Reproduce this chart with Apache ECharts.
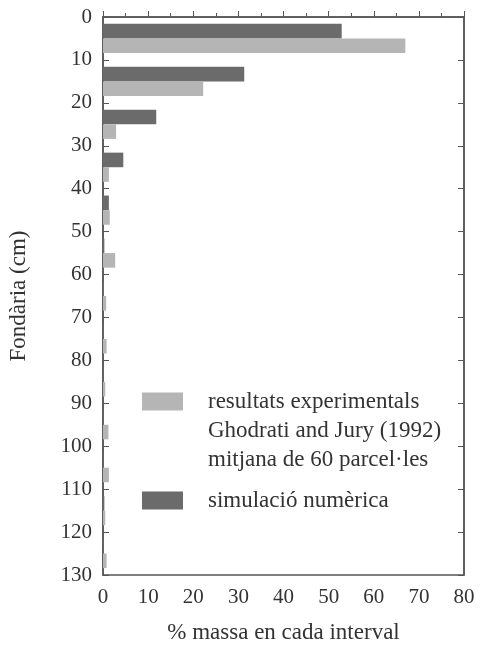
<!DOCTYPE html>
<html>
<head>
<meta charset="utf-8">
<script src="https://cdn.jsdelivr.net/npm/echarts@6/dist/echarts.min.js"></script>
<style>
html,body{margin:0;padding:0;background:#fff;}
#chart{width:484px;height:645px;}
</style>
</head>
<body>
<div id="chart"></div>
<script>
// depth intervals (cm), 10-cm bins
var depthBins = ['0-10','10-20','20-30','30-40','40-50','50-60','60-70','70-80','80-90','90-100','100-110','110-120','120-130'];
// % mass in each interval
var simulacio = [52.9, 31.3, 11.8, 4.5, 1.3, 0.3, 0.2, 0.1, 0.1, 0.1, 0.1, 0.3, 0.1];
var experimental = [67.0, 22.2, 2.9, 1.3, 1.5, 2.7, 0.7, 0.8, 0.5, 1.2, 1.3, 0.5, 0.8];
var depthTicks = [0,10,20,30,40,50,60,70,80,90,100,110,120,130];
var massTicks = [0,10,20,30,40,50,60,70,80];

var serif = '"Liberation Serif", "DejaVu Serif", serif';
var txt = '#333';
var lineCol = '#555';
var chart = echarts.init(document.getElementById('chart'), null, {renderer:'canvas'});
var nameExp = 'resultats experimentals\nGhodrati and Jury (1992)\nmitjana de 60 parcel·les';
var nameSim = 'simulació numèrica';
chart.setOption({
  animation:false,
  backgroundColor:'#fff',
  textStyle:{fontFamily:serif},
  grid:{left:103, top:17, right:20, bottom:70, containLabel:false, outerBoundsMode:'none',
    show:true, borderColor:lineCol, borderWidth:1.5, backgroundColor:'transparent'},
  legend:[{
    data:[nameExp], orient:'vertical', left:137, top:324,
    icon:'rect', itemWidth:41, itemHeight:18,
    formatter:function(n){return '\n\n' + n;},
    textStyle:{fontFamily:serif, fontSize:23, color:txt, lineHeight:29, padding:[0,0,0,20]}
  },{
    data:[nameSim], orient:'vertical', left:137, top:481,
    icon:'rect', itemWidth:41, itemHeight:18,
    textStyle:{fontFamily:serif, fontSize:23, color:txt, lineHeight:29, padding:[0,0,0,20]}
  }],
  xAxis:[{
    type:'value', min:0, max:80, interval:10, position:'bottom',
    name:'% massa en cada interval', nameLocation:'middle', nameGap:46,
    nameTextStyle:{fontFamily:serif, fontSize:23, color:txt},
    axisLine:{show:true, lineStyle:{color:lineCol, width:1.5}},
    axisTick:{show:true, inside:true, length:6, lineStyle:{color:lineCol}},
    minorTick:{show:true, splitNumber:2, length:4, lineStyle:{color:lineCol}},
    axisLabel:{fontFamily:serif, fontSize:21, color:txt, margin:12,
      formatter:function(v){return massTicks.indexOf(v)>=0?String(v):'';}},
    splitLine:{show:false}
  }],
  yAxis:[{
    type:'category', data:depthBins, inverse:true, show:false,
    axisLine:{show:false}, axisTick:{show:false}, axisLabel:{show:false}, splitLine:{show:false}
  },{
    type:'value', min:0, max:130, interval:10, inverse:true, position:'left',
    name:'Fondària (cm)', nameLocation:'middle', nameGap:73, nameRotate:90,
    nameTextStyle:{fontFamily:serif, fontSize:23, color:txt},
    axisLine:{show:true, lineStyle:{color:lineCol, width:1.5}},
    axisTick:{show:true, inside:true, length:6, lineStyle:{color:lineCol}},
    axisLabel:{fontFamily:serif, fontSize:21, color:txt, margin:11,
      formatter:function(v){return depthTicks.indexOf(v)>=0?String(v):'';}},
    splitLine:{show:false}
  },{
    type:'value', min:0, max:130, interval:10, inverse:true, position:'right',
    axisLine:{show:true, lineStyle:{color:lineCol, width:1.5}},
    axisTick:{show:true, inside:true, length:6, lineStyle:{color:lineCol}},
    axisLabel:{show:false}, splitLine:{show:false}
  }],
  series:[{
    name:nameSim, type:'bar', xAxisIndex:0, yAxisIndex:0, data:simulacio,
    barGap:'0%', barCategoryGap:'32%',
    itemStyle:{color:'#6b6b6b'}
  },{
    name:nameExp, type:'bar', xAxisIndex:0, yAxisIndex:0, data:experimental,
    barGap:'0%', barCategoryGap:'32%',
    itemStyle:{color:'#b5b5b5'}
  }]
});
</script>
</body>
</html>
